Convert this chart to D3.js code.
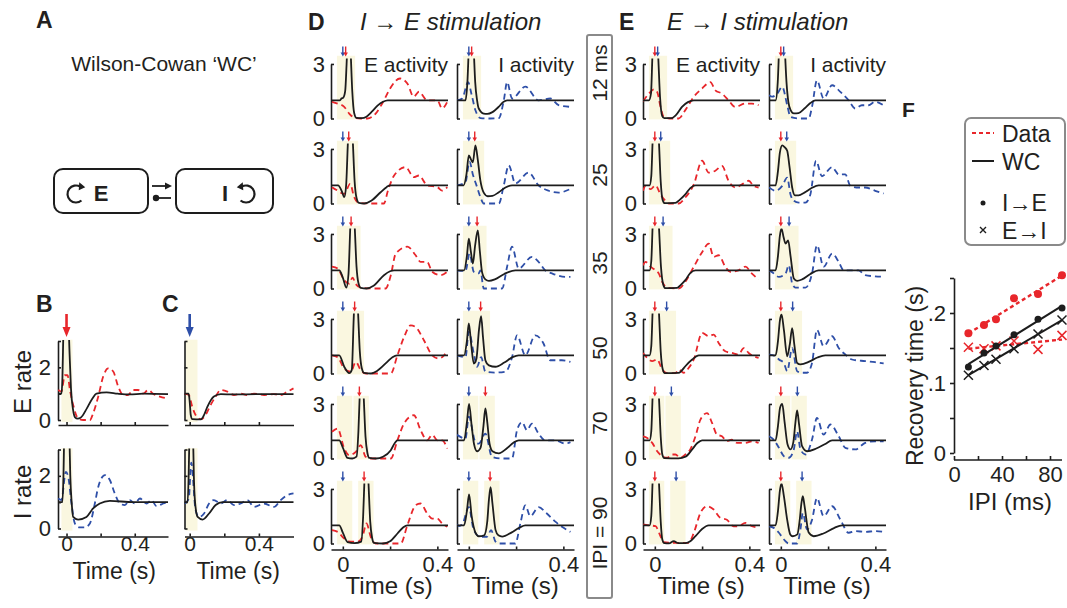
<!DOCTYPE html>
<html>
<head>
<meta charset="utf-8">
<script src="https://cdn.jsdelivr.net/npm/d3@7"></script>
<style>
  body { margin: 0; background: #fff; }
  svg text { font-family: "Liberation Sans", Arial, Helvetica, sans-serif; fill: #231f20; }
</style>
</head>
<body>
<svg id="fig" width="1067" height="608"></svg>
<script>
// ---------------- data ----------------
const ipis = [12, 25, 35, 50, 70, 90];
const ipiLabels = ["12 ms", "25", "35", "50", "70", "IPI = 90"];

// traces are [time (s), rate / baseline], one array per IPI row
// panel D: I -> E stimulation
const wcIE_E = [
  [[-0.05,1],[-0.012,1],[-0.006,1.1],[0.002,1.15],[0.01,1.5],[0.016,3],[0.024,5.5],[0.032,4],[0.04,1.5],[0.048,0.3],[0.058,0.03],[0.08,0.02],[0.1,0.1],[0.125,0.4],[0.148,0.72],[0.17,0.92],[0.19,1],[0.445,1]],
  [[-0.05,1],[-0.02,1],[-0.005,0.7],[0.006,0.35],[0.014,1],[0.022,3.5],[0.033,5.5],[0.042,3.5],[0.05,1.2],[0.058,0.3],[0.068,0.03],[0.09,0],[0.12,0.15],[0.16,0.62],[0.185,0.9],[0.2,1],[0.445,1]],
  [[-0.05,1],[-0.015,1],[0,0.6],[0.015,0.05],[0.024,0.8],[0.032,3.5],[0.041,5.5],[0.05,3.5],[0.058,1.2],[0.066,0.3],[0.076,0.03],[0.1,0],[0.13,0.15],[0.174,0.73],[0.2,0.95],[0.217,1],[0.445,1]],
  [[-0.05,1],[-0.015,1],[0.006,0.37],[0.027,0.02],[0.038,0.2],[0.046,3],[0.055,5.5],[0.064,3.5],[0.072,1.2],[0.08,0.3],[0.09,0.03],[0.12,0],[0.146,0.15],[0.188,0.64],[0.21,0.9],[0.23,1],[0.445,1]],
  [[-0.05,1],[-0.015,1],[0,0.6],[0.02,0.03],[0.04,0],[0.058,0.1],[0.066,1.5],[0.073,4],[0.08,5.5],[0.088,3.5],[0.096,1.2],[0.104,0.3],[0.112,0.03],[0.14,0],[0.17,0.1],[0.203,0.46],[0.22,0.85],[0.231,1],[0.445,1]],
  [[-0.05,1],[-0.015,1],[0,0.6],[0.02,0.08],[0.05,0.02],[0.078,0.1],[0.086,1.5],[0.093,4],[0.1,5.5],[0.108,3.5],[0.116,1.2],[0.124,0.3],[0.132,0.03],[0.17,0],[0.2,0.12],[0.231,0.55],[0.255,0.88],[0.273,1],[0.445,1]]
];
const dataIE_E = [
  [[-0.046,0.92],[-0.022,0.82],[0.006,0.64],[0.027,0.27],[0.048,0.05],[0.075,0],[0.104,0],[0.139,0.27],[0.174,1.0],[0.2,1.65],[0.242,2.2],[0.273,1.92],[0.3,1.2],[0.322,1.47],[0.357,1.0],[0.4,1.0],[0.42,0.55],[0.442,0.92]],
  [[-0.046,0.9],[-0.022,0.71],[0.006,0.53],[0.031,1.08],[0.048,0.35],[0.069,0.03],[0.12,0],[0.174,0],[0.191,0.71],[0.217,1.54],[0.266,2.0],[0.3,1.45],[0.322,1.54],[0.357,1.0],[0.4,0.9],[0.42,0.71],[0.442,0.9]],
  [[-0.046,1.2],[-0.022,1.1],[0.006,0.45],[0.027,0.27],[0.041,0.6],[0.055,0.24],[0.076,0.05],[0.13,0],[0.181,0],[0.203,0.73],[0.224,1.92],[0.273,2.3],[0.308,1.83],[0.329,1.46],[0.357,1.46],[0.378,0.92],[0.414,0.73],[0.442,0.92]],
  [[-0.046,1.0],[-0.022,0.9],[0.006,0.27],[0.034,0.1],[0.055,0.64],[0.076,0.18],[0.097,0],[0.15,0],[0.203,0],[0.231,1.0],[0.259,2.0],[0.287,2.65],[0.308,2.56],[0.343,1.83],[0.378,1.0],[0.406,0.82],[0.428,1.0],[0.442,1.28]],
  [[-0.046,1.47],[-0.022,1.65],[0.006,0.55],[0.027,0.18],[0.055,0.37],[0.076,0.73],[0.097,0.09],[0.118,0],[0.16,0],[0.203,0],[0.231,1.0],[0.259,1.92],[0.301,2.38],[0.329,1.56],[0.357,1.0],[0.378,1.3],[0.4,1.0],[0.42,1.0],[0.442,0.55]],
  [[-0.046,0.73],[-0.022,0.64],[0.006,0.27],[0.034,0.1],[0.062,0.1],[0.083,0.37],[0.1,1.1],[0.118,0.37],[0.139,0],[0.19,0],[0.245,0],[0.273,1.0],[0.308,2.1],[0.329,2.2],[0.357,1.65],[0.378,1.37],[0.4,1.37],[0.42,1.1],[0.442,0.92]]
];
const wcIE_I = [
  [[-0.05,1],[-0.014,1],[-0.006,2],[0.002,4.5],[0.011,5.5],[0.02,4],[0.027,2],[0.035,1],[0.042,0.55],[0.063,0.27],[0.078,0.25],[0.1,0.35],[0.127,0.65],[0.145,0.9],[0.162,1],[0.445,1]],
  [[-0.05,1],[-0.022,1],[-0.01,1.6],[0,2.64],[0.01,2.4],[0.017,2.27],[0.028,3.2],[0.038,2.4],[0.049,1.26],[0.063,0.6],[0.08,0.4],[0.1,0.42],[0.127,0.62],[0.155,0.88],[0.183,1],[0.445,1]],
  [[-0.05,1],[-0.02,1],[-0.008,1.8],[0,2.74],[0.009,2],[0.017,1.37],[0.027,2.4],[0.038,3.2],[0.047,2],[0.056,0.9],[0.07,0.5],[0.085,0.42],[0.11,0.5],[0.15,0.8],[0.197,1],[0.445,1]],
  [[-0.05,1],[-0.02,1],[-0.008,1.8],[0,2.75],[0.01,1.6],[0.021,0.55],[0.032,0.8],[0.043,2.4],[0.052,3.15],[0.06,2],[0.07,0.73],[0.085,0.45],[0.113,0.37],[0.15,0.6],[0.185,0.9],[0.211,1],[0.445,1]],
  [[-0.05,1],[-0.02,1],[-0.008,2],[0.001,3.0],[0.012,1.8],[0.022,0.8],[0.035,0.4],[0.05,0.6],[0.062,1.8],[0.07,2.75],[0.078,2],[0.088,0.8],[0.1,0.4],[0.127,0.28],[0.16,0.55],[0.19,0.88],[0.211,1],[0.445,1]],
  [[-0.05,1],[-0.02,1],[-0.008,1.8],[0.001,2.7],[0.012,1.5],[0.028,0.6],[0.042,0.4],[0.065,0.45],[0.078,1.2],[0.085,2.4],[0.092,3.1],[0.1,2.2],[0.113,0.75],[0.125,0.45],[0.141,0.38],[0.18,0.6],[0.215,0.88],[0.239,1],[0.445,1]]
];
const dataIE_I = [
  [[-0.05,1],[-0.028,1.1],[-0.003,2],[0.012,1.3],[0.028,0.45],[0.049,0.02],[0.09,0],[0.127,0.02],[0.148,1],[0.162,2],[0.183,1.1],[0.239,1.75],[0.295,1],[0.345,1.1],[0.38,0.73],[0.43,0.64]],
  [[-0.05,1],[-0.014,1.17],[0.003,2.3],[0.017,1.6],[0.035,0.9],[0.049,0.35],[0.063,0],[0.1,0],[0.127,0],[0.148,1.0],[0.169,2.1],[0.197,1.1],[0.253,1.7],[0.295,1.0],[0.338,0.7],[0.38,0.6],[0.43,0.8]],
  [[-0.05,1],[-0.014,0.96],[0.003,1.92],[0.021,0.92],[0.042,0.83],[0.049,1.0],[0.063,0],[0.1,0],[0.141,0],[0.162,1.2],[0.183,2.3],[0.211,1.1],[0.267,1.74],[0.295,1.47],[0.323,1.0],[0.352,0.83],[0.408,0.64],[0.43,0.64]],
  [[-0.05,1],[-0.014,0.9],[0,2.3],[0.021,1.1],[0.035,0.37],[0.052,0.9],[0.07,0.1],[0.11,0.05],[0.155,0.1],[0.183,0.9],[0.204,2.1],[0.239,1.0],[0.281,2.1],[0.316,1.65],[0.344,0.73],[0.394,0.73],[0.43,0.64]],
  [[-0.05,1.3],[-0.014,1.1],[0,2.3],[0.028,0.9],[0.042,0.82],[0.07,1.37],[0.098,0.09],[0.14,0],[0.183,0],[0.204,1.56],[0.225,2.0],[0.246,1.56],[0.267,1.92],[0.295,1.37],[0.323,1.0],[0.366,1.0],[0.408,0.82],[0.43,0.9]],
  [[-0.05,1.05],[-0.042,0.96],[-0.028,1.05],[0,2.0],[0.021,0.73],[0.049,0.37],[0.077,0.37],[0.094,0.73],[0.113,0.1],[0.127,0],[0.197,0],[0.218,1.1],[0.239,2.1],[0.26,1.5],[0.295,2.0],[0.33,1.65],[0.366,1.2],[0.394,0.92],[0.43,0.64]]
];

// panel E: E -> I stimulation
const wcEI_E = [
  [[-0.05,1],[-0.025,1],[-0.016,1.4],[-0.01,3.5],[0.004,5.5],[0.014,3.5],[0.022,1.2],[0.031,0.15],[0.04,0.02],[0.07,0.02],[0.09,0.2],[0.115,0.64],[0.14,0.9],[0.165,1],[0.445,1]],
  [[-0.05,1],[-0.022,1],[-0.015,1.5],[-0.009,3.5],[0.005,5.5],[0.017,3.5],[0.025,1.2],[0.033,0.2],[0.042,0.02],[0.087,0.03],[0.105,0.2],[0.129,0.5],[0.15,0.85],[0.172,1],[0.445,1]],
  [[-0.05,1],[-0.022,1],[-0.015,1.5],[-0.009,3.5],[0.005,5.5],[0.017,3.5],[0.026,1.2],[0.036,0.2],[0.045,0.02],[0.094,0.03],[0.11,0.2],[0.129,0.46],[0.15,0.85],[0.172,1],[0.445,1]],
  [[-0.05,1],[-0.022,1],[-0.015,1.5],[-0.009,3.5],[0.005,5.5],[0.017,3.5],[0.025,1.2],[0.034,0.2],[0.042,0.02],[0.1,0.03],[0.113,0.15],[0.129,0.4],[0.158,0.77],[0.186,1],[0.445,1]],
  [[-0.05,1],[-0.022,1],[-0.015,1.5],[-0.009,3.5],[0.005,5.5],[0.017,3.5],[0.025,1.2],[0.032,0.2],[0.04,0.02],[0.1,0.01],[0.13,0.1],[0.158,0.5],[0.18,0.85],[0.2,1],[0.445,1]],
  [[-0.05,1],[-0.022,1],[-0.015,1.5],[-0.009,3.5],[0.005,5.5],[0.017,3.5],[0.025,1.2],[0.032,0.2],[0.04,0.02],[0.06,0.01],[0.08,0.13],[0.1,0.02],[0.13,0.02],[0.15,0.12],[0.172,0.4],[0.2,0.8],[0.228,1],[0.445,1]]
];
const dataEI_E = [
  [[-0.05,0.95],[-0.025,1.37],[-0.004,1.6],[0.01,1.46],[0.024,0.64],[0.038,0.09],[0.07,0],[0.101,0],[0.129,0.46],[0.165,1.2],[0.2,1.65],[0.235,2.0],[0.256,1.55],[0.284,1.37],[0.312,1.0],[0.34,0.64],[0.383,0.82],[0.411,0.82],[0.439,0.73]],
  [[-0.05,0.7],[-0.039,0.97],[-0.018,0.79],[0.003,1.0],[0.024,0.5],[0.045,0.15],[0.059,0],[0.101,0],[0.129,0.33],[0.165,1.05],[0.2,2.35],[0.228,1.7],[0.256,1.8],[0.284,2.07],[0.312,1.25],[0.34,0.88],[0.369,1.05],[0.397,1.25],[0.418,0.97],[0.439,0.88]],
  [[-0.05,1.28],[-0.039,1.46],[-0.018,1.2],[0.003,1.0],[0.017,0.82],[0.031,0.37],[0.052,0.05],[0.101,0],[0.129,0.37],[0.165,1.2],[0.2,2.0],[0.228,2.47],[0.249,1.74],[0.27,1.83],[0.298,1.2],[0.319,0.92],[0.354,1.0],[0.383,1.2],[0.411,0.82],[0.439,0.5]],
  [[-0.05,1.13],[-0.032,0.86],[-0.011,0.68],[0.01,0.77],[0.031,0.22],[0.052,0.02],[0.087,0.02],[0.101,0.22],[0.122,0.04],[0.143,0.3],[0.165,0.77],[0.2,2.23],[0.228,2.05],[0.249,2.14],[0.27,1.68],[0.298,1.22],[0.326,1.13],[0.354,1.04],[0.376,1.4],[0.397,1.13],[0.418,0.95],[0.439,0.86]],
  [[-0.05,1.22],[-0.032,1.13],[-0.011,0.86],[0.01,0.4],[0.031,0.13],[0.052,0.04],[0.073,0.22],[0.087,0.22],[0.108,0.04],[0.129,0.22],[0.15,0.5],[0.172,1.22],[0.193,2.14],[0.221,2.5],[0.242,1.96],[0.263,1.31],[0.284,1.22],[0.305,0.95],[0.326,1.04],[0.347,0.86],[0.383,0.86],[0.411,0.95],[0.439,0.86]],
  [[-0.05,1.04],[-0.025,1.0],[0.003,0.95],[0.024,0.4],[0.038,0.07],[0.059,0.04],[0.1,0.03],[0.143,0.04],[0.165,0.59],[0.193,1.68],[0.221,2.05],[0.249,1.87],[0.277,1.41],[0.305,1.31],[0.333,0.95],[0.354,0.95],[0.383,1.13],[0.411,0.95],[0.439,0.86]]
];
const wcEI_I = [
  [[-0.05,1],[-0.022,1],[-0.013,2],[-0.005,4.5],[0.006,5.5],[0.016,4],[0.024,2],[0.032,0.9],[0.042,0.45],[0.055,0.28],[0.075,0.3],[0.1,0.55],[0.125,0.85],[0.146,1],[0.445,1]],
  [[-0.05,1],[-0.022,1],[-0.012,1.8],[-0.004,2.8],[0.006,3.2],[0.016,3.1],[0.027,2.9],[0.037,2],[0.048,0.88],[0.06,0.45],[0.075,0.45],[0.1,0.6],[0.13,0.85],[0.16,1],[0.445,1]],
  [[-0.05,1],[-0.022,1],[-0.012,1.8],[-0.004,2.9],[0.003,3.3],[0.012,2.8],[0.02,2.47],[0.031,2.65],[0.041,1.8],[0.055,0.55],[0.069,0.42],[0.09,0.5],[0.125,0.8],[0.16,1],[0.445,1]],
  [[-0.05,1],[-0.022,1],[-0.012,1.8],[-0.004,2.9],[0.003,3.25],[0.013,2.4],[0.027,0.95],[0.038,1.6],[0.048,2.5],[0.057,1.6],[0.069,0.58],[0.083,0.5],[0.12,0.65],[0.155,0.88],[0.188,1],[0.445,1]],
  [[-0.05,1],[-0.022,1],[-0.012,1.8],[-0.003,2.8],[0.006,3.0],[0.016,2],[0.028,0.8],[0.041,0.5],[0.053,0.9],[0.062,2],[0.069,2.65],[0.077,1.9],[0.09,0.68],[0.111,0.4],[0.15,0.55],[0.188,0.8],[0.217,1],[0.445,1]],
  [[-0.05,1],[-0.022,1],[-0.012,1.8],[-0.004,2.9],[0.003,3.3],[0.013,2.6],[0.027,1.3],[0.04,0.5],[0.05,0.4],[0.07,0.5],[0.08,1.3],[0.087,2.2],[0.093,2.6],[0.1,2.1],[0.118,0.6],[0.139,0.4],[0.18,0.55],[0.225,0.85],[0.259,1],[0.445,1]]
];
const dataEI_I = [
  [[-0.05,1.28],[-0.037,1.2],[-0.015,1.37],[0.006,1.74],[0.027,0.73],[0.041,0.09],[0.08,0],[0.118,0],[0.132,0.64],[0.153,2.1],[0.181,1.1],[0.217,1.83],[0.252,1.46],[0.287,1.0],[0.315,0.55],[0.343,0.73],[0.371,0.73],[0.399,0.92],[0.435,0.73]],
  [[-0.05,0.88],[-0.022,0.7],[0.006,0.97],[0.027,1.42],[0.041,0.5],[0.055,0.15],[0.076,0.05],[0.104,0.05],[0.125,0.5],[0.149,2.35],[0.174,1.5],[0.217,2.0],[0.245,1.6],[0.273,1.6],[0.294,0.97],[0.329,0.88],[0.357,0.88],[0.399,0.7],[0.435,0.55]],
  [[-0.05,1.0],[-0.037,0.9],[-0.008,0.64],[0.02,0.82],[0.034,1.28],[0.048,0.27],[0.062,0.05],[0.104,0.05],[0.132,0.82],[0.153,2.38],[0.181,1.2],[0.217,1.92],[0.245,1.46],[0.266,1.0],[0.301,1.0],[0.329,1.0],[0.357,0.73],[0.399,0.67],[0.435,0.64]],
  [[-0.05,1.04],[-0.022,0.95],[-0.008,0.77],[0.013,0.58],[0.027,0.13],[0.048,1.4],[0.069,0.13],[0.09,0.04],[0.111,0.04],[0.132,0.58],[0.153,2.4],[0.181,1.5],[0.217,2.05],[0.245,1.4],[0.273,1.04],[0.301,0.77],[0.357,0.68],[0.399,0.62],[0.435,0.55]],
  [[-0.05,1.22],[-0.03,1.04],[-0.008,0.59],[0.013,0.13],[0.034,0.04],[0.055,0.5],[0.069,1.5],[0.083,0.5],[0.104,0.22],[0.132,1.04],[0.153,2.23],[0.181,1.31],[0.21,1.87],[0.245,1.22],[0.273,0.59],[0.315,0.5],[0.357,0.86],[0.399,0.95],[0.435,0.95]],
  [[-0.05,0.95],[-0.03,0.86],[-0.008,0.59],[0.013,0.22],[0.034,0],[0.069,0],[0.083,0.77],[0.093,1.68],[0.111,0.77],[0.132,1.3],[0.153,2.5],[0.181,1.5],[0.217,2.05],[0.252,1.31],[0.287,0.59],[0.315,0.68],[0.357,0.64],[0.399,0.68],[0.435,0.64]]
];

// panels B (E stimulation) and C (I stimulation)
const wcB_E = [[-0.05,1],[-0.03,1],[-0.024,1.6],[-0.018,3.5],[-0.005,5],[0.01,4],[0.018,2.5],[0.026,1.2],[0.038,0.4],[0.05,0.1],[0.065,0.05],[0.085,0.1],[0.12,0.45],[0.15,0.8],[0.176,1],[0.235,1.05],[0.3,1.0],[0.37,0.97],[0.45,1.0],[0.595,0.98]];
const dataB_E = [[-0.049,1.14],[-0.03,1.08],[-0.01,1.7],[0.006,1.7],[0.02,1.14],[0.039,0.57],[0.068,0.06],[0.098,0],[0.137,0],[0.156,0.25],[0.186,0.89],[0.215,1.65],[0.244,1.96],[0.274,1.84],[0.303,1.27],[0.332,0.95],[0.361,0.95],[0.39,1.14],[0.42,1.14],[0.449,1.0],[0.479,1.14],[0.508,1.0],[0.547,0.89],[0.595,0.82]];
const wcB_I = [[-0.05,1],[-0.024,1],[-0.018,2],[-0.012,4],[0.003,5],[0.015,4],[0.022,2],[0.03,1],[0.039,0.44],[0.068,0.34],[0.117,0.44],[0.156,0.76],[0.195,0.95],[0.254,1.05],[0.39,1.0],[0.595,1.0]];
const dataB_I = [[-0.049,1.14],[-0.03,1.08],[-0.004,2.15],[0.01,1.96],[0.029,0.95],[0.049,0.19],[0.078,0.04],[0.107,0.04],[0.137,0.19],[0.166,0.95],[0.186,1.58],[0.225,2.03],[0.254,1.84],[0.283,1.33],[0.313,0.95],[0.342,0.89],[0.371,1.08],[0.4,0.95],[0.43,1.14],[0.469,0.95],[0.498,1.08],[0.528,0.85],[0.567,0.95],[0.595,1.01]];
const wcC_E = [[-0.03,1],[-0.006,1],[0,0.7],[0.006,0.2],[0.015,0.03],[0.064,0.02],[0.08,0.15],[0.102,0.5],[0.14,0.89],[0.18,0.98],[0.25,0.97],[0.4,0.98],[0.6,0.98]];
const dataC_E = [[-0.028,1.0],[-0.005,0.95],[0.015,0.5],[0.034,0.19],[0.064,0.03],[0.092,0.19],[0.121,0.57],[0.15,0.89],[0.179,1.14],[0.218,1.08],[0.256,0.95],[0.295,1.0],[0.333,0.95],[0.372,1.0],[0.43,0.95],[0.487,0.98],[0.526,0.95],[0.565,1.08],[0.6,1.2]];
const wcC_I = [[-0.03,1],[-0.012,1],[-0.006,2],[0,4],[0.009,5],[0.018,4],[0.024,2],[0.031,1],[0.046,0.44],[0.075,0.34],[0.112,0.57],[0.15,0.89],[0.19,1.0],[0.6,1.0]];
const dataC_I = [[-0.028,0.95],[-0.005,1.14],[0.009,2.5],[0.034,0.7],[0.054,0.44],[0.083,0.57],[0.112,0.95],[0.14,1.08],[0.179,0.95],[0.218,1.08],[0.256,0.89],[0.295,0.95],[0.333,1.08],[0.372,0.82],[0.43,0.95],[0.487,0.82],[0.526,1.08],[0.565,1.27],[0.6,1.33]];

// panel F: recovery time (s) vs IPI (ms)
const fIPI = [12, 25, 35, 50, 70, 90];
const recDataIE = [0.171, 0.183, 0.191, 0.221, 0.227, 0.254];
const recDataEI = [0.151, 0.149, 0.153, 0.160, 0.148, 0.168];
const recWcIE = [0.123, 0.143, 0.153, 0.169, 0.191, 0.207];
const recWcEI = [0.111, 0.125, 0.134, 0.149, 0.170, 0.190];

// ---------------- drawing ----------------
const svg = d3.select("#fig");
const RED = "#e8262b", BLUE = "#2e4fa8", SHADE = "#faf7e0", INK = "#1d1d1d", GREY = "#8a8a8a";

const defs = svg.append("defs");
defs.append("clipPath").attr("id", "miniClip")
  .append("rect").attr("x", 0).attr("y", -60).attr("width", 118).attr("height", 70);
defs.append("clipPath").attr("id", "bcClip")
  .append("rect").attr("x", 0).attr("y", -80).attr("width", 112).attr("height", 90);

function drawTrace(g, pts, xs, ys, color, dashed, clip) {
  g.append("path")
    .datum(pts)
    .attr("clip-path", `url(#${clip})`)
    .attr("fill", "none")
    .attr("stroke", color)
    .attr("stroke-width", 1.8)
    .attr("stroke-linejoin", "round")
    .attr("stroke-dasharray", dashed ? "6,4" : null)
    .attr("d", d3.line().x(d => xs(d[0])).y(d => ys(d[1])).curve(d3.curveMonotoneX));
}

function stimArrow(g, x, yTop, yTip, color, head, w, sw) {
  g.append("line")
    .attr("x1", x).attr("x2", x).attr("y1", yTop).attr("y2", yTip - head + 1)
    .attr("stroke", color).attr("stroke-width", sw);
  g.append("path")
    .attr("d", `M${x - w / 2},${yTip - head}L${x + w / 2},${yTip - head}L${x},${yTip}Z`)
    .attr("fill", color);
}

function styleAxis(sel, size) {
  sel.attr("font-size", size).attr("font-family", null);
  sel.selectAll("path, line").attr("stroke", INK).attr("stroke-width", 1.6);
  sel.selectAll("text").attr("fill", "#231f20");
}

const tickFmt = d => (d === 0 ? "0" : d === 0.4 ? "0.4" : "");

// ---- panels D and E (mini panels) ----
const miniX = d3.scaleLinear().domain([-0.05, 0.445]).range([0, 117]);
const miniY = d3.scaleLinear().domain([0, 3.3]).range([0, -60]);
const miniAxisY = d3.scaleLinear().domain([0, 3]).range([0, miniY(3)]);
const colX = [331, 457, 643, 769];
const rowY = [118.5, 203.5, 288.5, 373.5, 458.5, 543.5];

function shadeWindows(stims) {
  const w = stims.map(s => [s - 0.025, s + 0.04]).sort((a, b) => a[0] - b[0]);
  const out = [w[0].slice()];
  w.slice(1).forEach(iv => {
    const last = out[out.length - 1];
    if (iv[0] <= last[1]) last[1] = Math.max(last[1], iv[1]);
    else out.push(iv.slice());
  });
  return out;
}

function miniPanel(col, row, wc, dat, color, firstColor, secondColor) {
  const g = svg.append("g").attr("transform", `translate(${colX[col]},${rowY[row]})`);
  const ipi = ipis[row] / 1000;

  shadeWindows([0, ipi]).forEach(iv => {
    g.append("rect")
      .attr("x", miniX(iv[0])).attr("width", miniX(iv[1]) - miniX(iv[0]))
      .attr("y", miniY(3.45)).attr("height", miniY(-0.05) - miniY(3.45))
      .attr("fill", SHADE);
  });

  // only the E-activity columns carry tick numbers
  const ax = g.append("g").call(
    d3.axisLeft(miniAxisY).tickValues([0, 3]).tickSize(-3).tickSizeOuter(0).tickPadding(6)
      .tickFormat(col % 2 === 0 ? d3.format("d") : () => "")
  );
  styleAxis(ax, 22);

  drawTrace(g, dat, miniX, miniY, color, true, "miniClip");
  drawTrace(g, wc, miniX, miniY, INK, false, "miniClip");

  stimArrow(g, miniX(0), -72, -62, firstColor, 4, 4.5, 1.4);
  stimArrow(g, miniX(ipi), -72, -62, secondColor, 4, 4.5, 1.4);

  if (row === 0) {
    g.append("text")
      .attr("x", 117).attr("y", -47)
      .attr("text-anchor", "end")
      .attr("font-size", 21)
      .text(col % 2 === 0 ? "E activity" : "I activity");
  }
  if (row === ipis.length - 1) {
    const bx = g.append("g").attr("transform", "translate(0,6)").call(
      d3.axisBottom(miniX).tickValues([0, 0.2, 0.4]).tickSize(-3).tickSizeOuter(0).tickPadding(7).tickFormat(tickFmt)
    );
    styleAxis(bx, 22);
    g.append("text")
      .attr("x", miniX(0.2) - 1).attr("y", 50)
      .attr("text-anchor", "middle")
      .attr("font-size", 24)
      .text("Time (s)");
  }
}

ipis.forEach((ipi, r) => {
  miniPanel(0, r, wcIE_E[r], dataIE_E[r], RED, BLUE, RED);
  miniPanel(1, r, wcIE_I[r], dataIE_I[r], BLUE, BLUE, RED);
  miniPanel(2, r, wcEI_E[r], dataEI_E[r], RED, RED, BLUE);
  miniPanel(3, r, wcEI_I[r], dataEI_I[r], BLUE, RED, BLUE);
});

// titles D / E
svg.append("text").attr("x", 308).attr("y", 30).attr("font-size", 23).attr("font-weight", "bold").text("D");
svg.append("text").attr("x", 360).attr("y", 30).attr("font-size", 24).attr("font-style", "italic").text("I \u2192 E stimulation");
svg.append("text").attr("x", 619).attr("y", 30).attr("font-size", 23).attr("font-weight", "bold").text("E");
svg.append("text").attr("x", 667).attr("y", 30).attr("font-size", 24).attr("font-style", "italic").text("E \u2192 I stimulation");

// IPI box
svg.append("rect")
  .attr("x", 587).attr("y", 35).attr("width", 25).attr("height", 563)
  .attr("rx", 2).attr("fill", "none").attr("stroke", GREY).attr("stroke-width", 2);
const ipiLabelY = [73, 175, 263, 348, 423, 533];
ipiLabels.forEach((lab, i) => {
  svg.append("text")
    .attr("transform", `translate(607,${ipiLabelY[i]}) rotate(-90)`)
    .attr("text-anchor", "middle")
    .attr("font-size", 21)
    .text(lab);
});

// ---- panels B and C ----
const bX = d3.scaleLinear().domain([-0.05, 0.595]).range([0, 110]);
const cX = d3.scaleLinear().domain([-0.03, 0.6]).range([0, 109]);
const rateY = d3.scaleLinear().domain([0, 3]).range([0, -79]);

function ratePanel(x0, y0, xs, wc, dat, color, shade, bottom, labels) {
  const g = svg.append("g").attr("transform", `translate(${x0},${y0})`);
  g.append("rect")
    .attr("x", xs(shade[0])).attr("width", xs(shade[1]) - xs(shade[0]))
    .attr("y", rateY(3.05)).attr("height", rateY(-0.08) - rateY(3.05))
    .attr("fill", SHADE);
  const ay = g.append("g").call(
    d3.axisLeft(rateY).tickValues([0, 1, 2, 3]).tickSize(-3).tickSizeOuter(0).tickPadding(7)
      .tickFormat(d => (labels && (d === 0 || d === 2) ? d : ""))
  );
  styleAxis(ay, 22);
  const axb = g.append("g").attr("transform", `translate(0,${bottom ? 8 : 5})`).call(
    d3.axisBottom(xs).tickValues([0, 0.2, 0.4]).tickSize(-3).tickSizeOuter(0).tickPadding(0)
      .tickFormat(bottom ? tickFmt : () => "")
  );
  styleAxis(axb, 21);
  drawTrace(g, dat, xs, rateY, color, true, "bcClip");
  drawTrace(g, wc, xs, rateY, INK, false, "bcClip");
  if (bottom) {
    g.append("text")
      .attr("x", xs(0.28)).attr("y", 50)
      .attr("text-anchor", "middle")
      .attr("font-size", 23)
      .text("Time (s)");
  }
  return g;
}

ratePanel(58, 420, bX, wcB_E, dataB_E, RED, [-0.03, 0.035], false, true);
ratePanel(58, 528.5, bX, wcB_I, dataB_I, BLUE, [-0.03, 0.035], true, true);
ratePanel(184.5, 420, cX, wcC_E, dataC_E, RED, [-0.023, 0.045], false, false);
ratePanel(184.5, 528.5, cX, wcC_I, dataC_I, BLUE, [-0.023, 0.045], true, false);

stimArrow(svg, 58 + bX(0), 314, 337, RED, 10, 8, 2.6);
stimArrow(svg, 184.5 + cX(0), 314, 337, BLUE, 10, 8, 2.6);

svg.append("text").attr("transform", "translate(31,382) rotate(-90)").attr("text-anchor", "middle").attr("font-size", 24).text("E rate");
svg.append("text").attr("transform", "translate(31,492) rotate(-90)").attr("text-anchor", "middle").attr("font-size", 24).text("I rate");
svg.append("text").attr("x", 36).attr("y", 312).attr("font-size", 23).attr("font-weight", "bold").text("B");
svg.append("text").attr("x", 162).attr("y", 312).attr("font-size", 23).attr("font-weight", "bold").text("C");

// ---- panel A ----
svg.append("text").attr("x", 36).attr("y", 28).attr("font-size", 23).attr("font-weight", "bold").text("A");
svg.append("text").attr("x", 164).attr("y", 71).attr("text-anchor", "middle").attr("font-size", 21).text("Wilson-Cowan \u2018WC\u2019");

const boxes = [{ x: 54, w: 94, label: "E", lx: 101, cx: 76, flip: 1 }, { x: 176, w: 97, label: "I", lx: 225, cx: 246, flip: -1 }];
boxes.forEach(b => {
  svg.append("rect")
    .attr("x", b.x).attr("y", 169).attr("width", b.w).attr("height", 44).attr("rx", 9)
    .attr("fill", "none").attr("stroke", INK).attr("stroke-width", 2);
  svg.append("text")
    .attr("x", b.lx).attr("y", 201).attr("text-anchor", "middle")
    .attr("font-size", 22).attr("font-weight", "bold").text(b.label);
  const loop = svg.append("g").attr("transform", `translate(${b.cx},194) scale(${b.flip},1)`);
  const p = d3.path();
  p.arc(0, 0, 8.5, 50 * Math.PI / 180, 300 * Math.PI / 180, false);
  loop.append("path").attr("d", p.toString()).attr("fill", "none").attr("stroke", INK).attr("stroke-width", 2.2);
  const ex = 8.5 * Math.cos(300 * Math.PI / 180), ey = 8.5 * Math.sin(300 * Math.PI / 180);
  loop.append("path").attr("d", `M${ex - 1},${ey - 4.5}L${ex + 5},${ey + 0.5}L${ex - 1.5},${ey + 3.5}Z`).attr("fill", INK);
});
svg.append("line").attr("x1", 152).attr("x2", 167).attr("y1", 186).attr("y2", 186).attr("stroke", INK).attr("stroke-width", 1.8);
svg.append("path").attr("d", "M165,182.5L172,186L165,189.5Z").attr("fill", INK);
svg.append("line").attr("x1", 156).attr("x2", 171).attr("y1", 198).attr("y2", 198).attr("stroke", INK).attr("stroke-width", 1.8);
svg.append("circle").attr("cx", 156).attr("cy", 198).attr("r", 3.2).attr("fill", INK);

// ---- panel F ----
const fx = d3.scaleLinear().domain([0, 90]).range([954, 1062]);
const fy = d3.scaleLinear().domain([0, 0.25]).range([453, 278]);

const fyAxis = svg.append("g").attr("transform", "translate(954,0)").call(
  d3.axisLeft(fy).tickValues([0, 0.05, 0.1, 0.15, 0.2, 0.25]).tickSize(4).tickSizeOuter(0).tickPadding(4)
    .tickFormat(d => (d === 0 ? "0" : d === 0.1 ? ".1" : d === 0.2 ? ".2" : ""))
);
styleAxis(fyAxis, 22);
const fxAxis = svg.append("g").attr("transform", "translate(0,460)").call(
  d3.axisBottom(fx).tickValues([0, 20, 40, 60, 80]).tickSize(-4).tickSizeOuter(0).tickPadding(6)
    .tickFormat(d => (d % 40 === 0 ? d : ""))
);
fxAxis.select(".domain").attr("d", `M${fx(0)},0H${fx(90)}`);
styleAxis(fxAxis, 22);

svg.append("text").attr("transform", "translate(923,376) rotate(-90)").attr("text-anchor", "middle").attr("font-size", 23).text("Recovery time (s)");
svg.append("text").attr("x", 1010).attr("y", 510).attr("text-anchor", "middle").attr("font-size", 24).text("IPI (ms)");
svg.append("text").attr("x", 902).attr("y", 117).attr("font-size", 21).attr("font-weight", "bold").text("F");

function fitLine(xs, ys) {
  const mx = d3.mean(xs), my = d3.mean(ys);
  const b = d3.sum(xs, (x, i) => (x - mx) * (ys[i] - my)) / d3.sum(xs, x => (x - mx) * (x - mx));
  return x => my + b * (x - mx);
}

const recSeries = [
  { vals: recDataIE, color: RED, dashed: true, mark: "dot" },
  { vals: recDataEI, color: RED, dashed: true, mark: "x" },
  { vals: recWcIE, color: INK, dashed: false, mark: "dot" },
  { vals: recWcEI, color: INK, dashed: false, mark: "x" }
];
recSeries.forEach(s => {
  const f = fitLine(fIPI, s.vals);
  const x0 = fIPI[0], x1 = fIPI[fIPI.length - 1];
  svg.append("line")
    .attr("x1", fx(x0)).attr("y1", fy(f(x0))).attr("x2", fx(x1)).attr("y2", fy(f(x1)))
    .attr("stroke", s.color).attr("stroke-width", s.dashed ? 2.4 : 2)
    .attr("stroke-dasharray", s.dashed ? "4,3" : null);
  fIPI.forEach((ipi, i) => {
    if (s.mark === "dot") {
      svg.append("circle").attr("cx", fx(ipi)).attr("cy", fy(s.vals[i]))
        .attr("r", s.color === RED ? 4 : 3.5).attr("fill", s.color);
    } else {
      svg.append("path")
        .attr("transform", `translate(${fx(ipi)},${fy(s.vals[i])})`)
        .attr("d", "M-4.5,-4.5L4.5,4.5M-4.5,4.5L4.5,-4.5")
        .attr("stroke", s.color).attr("stroke-width", 1.5);
    }
  });
});

// legend
const leg = svg.append("g");
leg.append("rect").attr("x", 965).attr("y", 118).attr("width", 100).attr("height", 127).attr("rx", 6)
  .attr("fill", "#fff").attr("stroke", GREY).attr("stroke-width", 2);
leg.append("line").attr("x1", 972).attr("x2", 994).attr("y1", 133).attr("y2", 133)
  .attr("stroke", RED).attr("stroke-width", 2).attr("stroke-dasharray", "4,3");
leg.append("line").attr("x1", 972).attr("x2", 994).attr("y1", 161).attr("y2", 161)
  .attr("stroke", INK).attr("stroke-width", 2);
leg.append("circle").attr("cx", 983).attr("cy", 203).attr("r", 2.5).attr("fill", INK);
leg.append("path").attr("transform", "translate(983,230)").attr("d", "M-3,-3L3,3M-3,3L3,-3")
  .attr("stroke", INK).attr("stroke-width", 1.4);
[["Data", 142], ["WC", 170], ["I\u2192E", 211], ["E\u2192I", 239]].forEach(([t, y]) => {
  leg.append("text").attr("x", 1002).attr("y", y).attr("font-size", 23).text(t);
});
</script>
</body>
</html>
